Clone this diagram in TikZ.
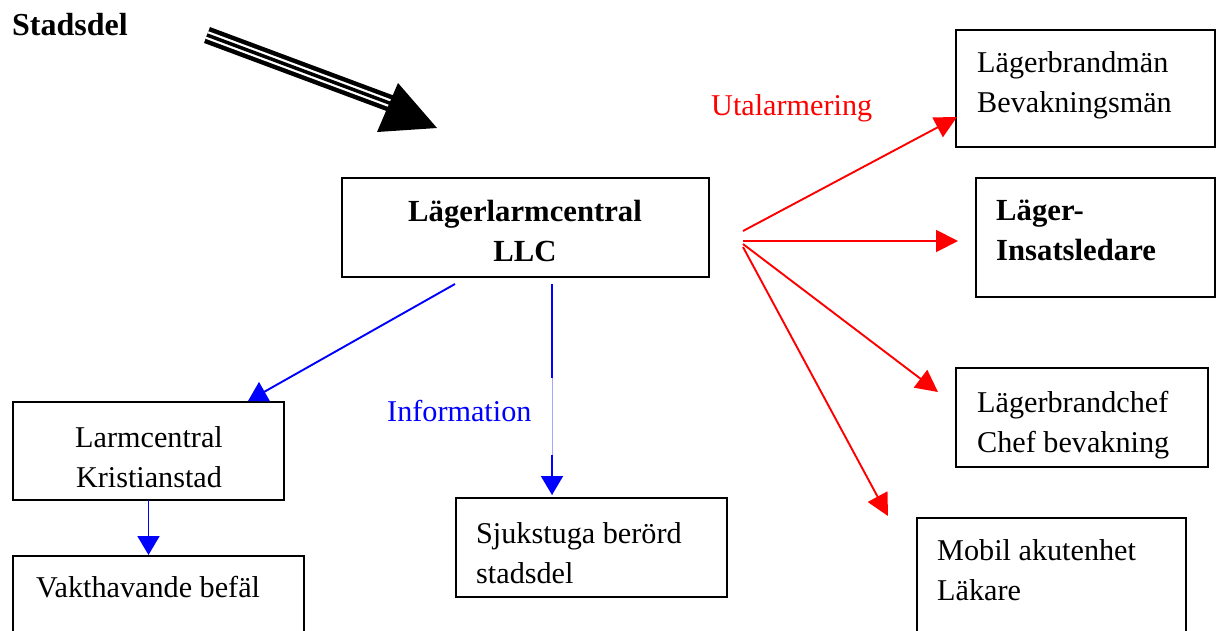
\documentclass[tikz,border=0pt]{standalone}
\usepackage{fontspec}
\setmainfont{Liberation Serif}
\usetikzlibrary{arrows.meta,calc}
\begin{document}
\begin{tikzpicture}[x=1pt,y=-1pt,
  box/.style={draw=black,line width=1.6pt,anchor=north west,inner sep=0pt,outer sep=0pt},
  txt/.style={anchor=base west,align=left,inner sep=0pt,font=\fontsize{30.2}{40}\selectfont},
  btxt/.style={txt,font=\fontsize{30.7}{40}\selectfont\bfseries},
  redarr/.style={draw=red,line width=1.9pt,-{Triangle[length=22pt,width=22pt]}},
  bluearr/.style={draw=blue,line width=1.9pt,-{Triangle[length=19pt,width=22pt]}},
  blueline/.style={draw=blue,line width=1.9pt}]
\clip (0,0) rectangle (1217,630);
% boxes
\node[box,minimum width=367pt,minimum height=99pt] (llc) at (342,178) {};
\node[box,minimum width=259pt,minimum height=117pt] (lbm) at (956,30) {};
\node[box,minimum width=239pt,minimum height=119pt] (lis) at (976,178) {};
\node[box,minimum width=252pt,minimum height=99pt] (lbc) at (956,368) {};
\node[box,minimum width=269pt,minimum height=130pt] (mob) at (917,518) {};
\node[box,minimum width=271pt,minimum height=98pt] (lck) at (13,402) {};
\node[box,minimum width=291pt,minimum height=90pt] (vak) at (13,556) {};
\node[box,minimum width=271pt,minimum height=99pt] (sjk) at (456,498) {};
% texts (base anchor = baseline of last line)
\node[btxt,anchor=base,align=center] (llct) at (525,261) {Lägerlarmcentral\\LLC};
\node[txt] (lbmt) at (977,112) {Lägerbrandmän\\Bevakningsmän};
\node[btxt] (list) at (996,260) {Läger-\\Insatsledare};
\node[txt] (lbct) at (977,452) {Lägerbrandchef\\Chef bevakning};
\node[txt] (mobt) at (937,600) {Mobil akutenhet\\Läkare};
\node[txt,anchor=base,align=center] (lckt) at (149,487) {Larmcentral\\Kristianstad};
\node[txt] (vakt) at (36,597) {Vakthavande befäl};
\node[txt] (sjkt) at (476,583) {Sjukstuga berörd\\stadsdel};
\node[btxt,font=\fontsize{32}{40}\selectfont\bfseries] (stad) at (12,35) {Stadsdel};
\node[txt,text=red] (utal) at (711,115) {Utalarmering};
\node[txt,text=blue] (info) at (387,421) {Information};
% big arrow
\coordinate (bt) at (207,35);
\coordinate (be) at (392,104);
\draw[line width=17pt] (bt) -- (be);
\draw[white,line width=8pt] (bt) -- (be);
\draw[line width=3.5pt] (bt) -- (be);
\fill (377,132) -- (398,83) -- (437,128) -- cycle;
% red arrows
\coordinate (r1) at ($(llc.east)+(34,3.5)$);
\coordinate (r2) at ($(llc.east)+(34,13.5)$);
\coordinate (r3) at ($(llc.east)+(34,16.5)$);
\coordinate (r4) at ($(llc.east)+(34,19.5)$);
\draw[redarr] (r1) -- ($(lbm.west)+(1,28.5)$);
\draw[redarr] (r2) -- ($(lis.west)+(-18,3.5)$);
\draw[redarr] (r3) -- ($(lbc.west)+(-18,-25.5)$);
\draw[redarr] (r4) -- ($(mob.north west)+(-29,-2)$);
% blue arrows
\draw[bluearr] ($(llc.south)+(-70.5,7)$) -- ($(lck.north)+(99.5,-1)$);
\coordinate (bs) at ($(llc.south)+(26.5,7)$);
\coordinate (bend) at ($(sjk.north west)+(96,-3)$);
\draw[blue!35,line width=0.8pt] (bs) -- (bend);
\draw[blueline] (bs) -- ($(bs)!0.445!(bend)$);
\draw[bluearr] ($(bs)!0.81!(bend)$) -- (bend);
\draw[bluearr] (lck.south) -- ($(lck.south |- vak.north)+(0,-1)$);
\end{tikzpicture}
\end{document}
